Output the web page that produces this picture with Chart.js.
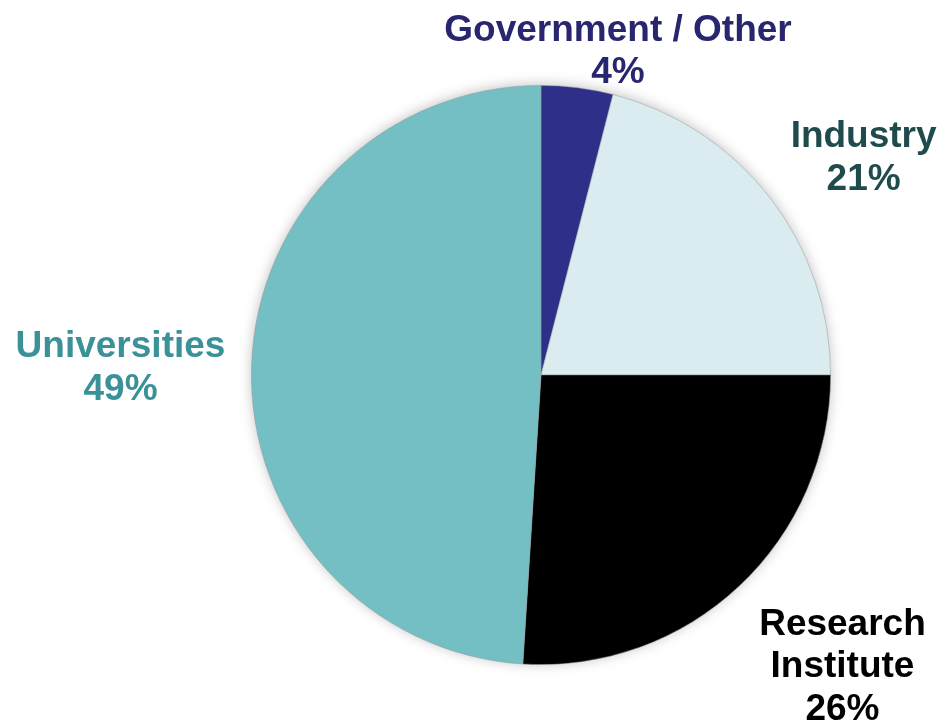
<!DOCTYPE html>
<html>
<head>
<meta charset="utf-8">
<script src="https://cdn.jsdelivr.net/npm/chart.js@4"></script>
<style>
html,body{margin:0;padding:0;background:#fff;}
#wrap{width:942px;height:722px;position:relative;}
</style>
</head>
<body>
<div id="wrap"><canvas id="c" width="942" height="722"></canvas></div>
<script>
const categories = ["Government / Other", "Industry", "Research Institute", "Universities"];
const values = [4, 21, 26, 49];
const labelLines = [["Government / Other", "4%"], ["Industry", "21%"], ["Research", "Institute", "26%"], ["Universities", "49%"]];
const sliceColors = ["#2E2F89", "#DAECEF", "#000000", "#73BFC4"];
const textColors = ["#28266E", "#1F4B4C", "#000000", "#3A9197"];
// label anchor offsets relative to pie center, in units of radius
const labelOffsets = [[0.266, -1.155], [1.114, -0.786], [1.041, 0.897], [-1.452, -0.062]];

const shadowPlugin = {
  id: 'shadow',
  beforeDatasetsDraw(chart) {
    const arc = chart.getDatasetMeta(0).data[0];
    if (!arc) return;
    const ctx = chart.ctx;
    ctx.save();
    ctx.shadowColor = 'rgba(0,0,0,0.28)';
    ctx.shadowBlur = 14;
    ctx.shadowOffsetY = -1;
    ctx.fillStyle = '#ffffff';
    ctx.beginPath();
    ctx.arc(arc.x, arc.y, arc.outerRadius - 1, 0, Math.PI * 2);
    ctx.fill();
    ctx.restore();
  }
};

const labelPlugin = {
  id: 'labels',
  afterDatasetsDraw(chart) {
    const meta = chart.getDatasetMeta(0);
    const ctx = chart.ctx;
    ctx.save();
    ctx.font = 'bold 37px "Liberation Sans", Arial, sans-serif';
    ctx.textAlign = 'center';
    ctx.textBaseline = 'alphabetic';
    meta.data.forEach((arc, i) => {
      const r = arc.outerRadius;
      const x = arc.x + labelOffsets[i][0] * r;
      const y = arc.y + labelOffsets[i][1] * r;
      ctx.fillStyle = textColors[i];
      labelLines[i].forEach((line, j) => ctx.fillText(line, x, y + j * 42.5));
    });
    ctx.restore();
  }
};

new Chart(document.getElementById('c'), {
  type: 'pie',
  data: {
    labels: categories,
    datasets: [{
      data: values,
      backgroundColor: sliceColors,
      borderColor: 'rgba(150,150,150,0.6)',
      borderWidth: 0.8
    }]
  },
  options: {
    responsive: false,
    animation: false,
    layout: { padding: { left: 140, right: 0, top: 85, bottom: 57 } },
    plugins: {
      legend: { display: false },
      tooltip: { enabled: false }
    }
  },
  plugins: [shadowPlugin, labelPlugin]
});
</script>
</body>
</html>
